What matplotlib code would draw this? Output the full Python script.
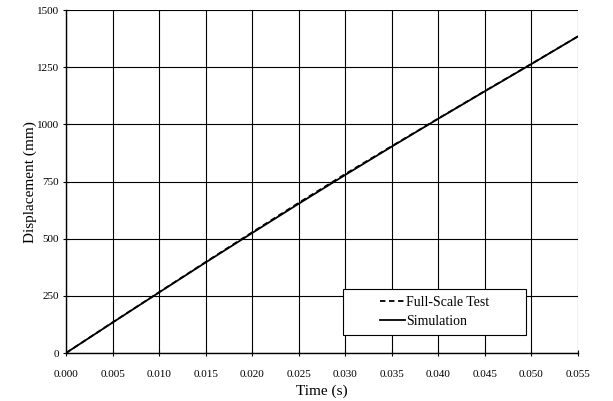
import numpy as np
import matplotlib
matplotlib.use("Agg")
import matplotlib.pyplot as plt
from matplotlib.patches import Rectangle

# time (s) and displacement (mm)
time = [0.000, 0.005, 0.010, 0.015, 0.020, 0.025, 0.030, 0.035, 0.040, 0.045, 0.050, 0.055]
test = [0, 134, 266, 398, 528, 657, 783, 905, 1026, 1146, 1265, 1385]
sim = [0, 133, 265, 396, 525, 653, 779, 903, 1025, 1145, 1264, 1385]

plt.rcParams['font.family'] = ['Liberation Serif', 'DejaVu Serif']

fig = plt.figure(figsize=(6.13, 4.01), dpi=100)
ax = fig.add_axes([0.1077, 0.1197, 0.835, 0.855])

ax.plot(time, test, color='black', lw=1.3, ls=(0, (3, 2)), label='Full-Scale Test')
ax.plot(time, sim, color='black', lw=1.3, label='Simulation')

ax.set_xlim(0, 0.055)
ax.set_ylim(0, 1500)
ax.set_xticks(np.arange(0, 0.0551, 0.005))
ax.set_xticklabels(['%.3f' % t for t in np.arange(0, 0.0551, 0.005)])
ax.set_yticks(np.arange(0, 1501, 250))
ax.grid(True, color='black', lw=0.8)
ax.tick_params(direction='inout', length=5, width=0.8, labelsize=8)
ax.tick_params(axis='x', pad=10)
ax.tick_params(axis='y', pad=2.5)
for s in ['top', 'right']:
    ax.spines[s].set_visible(False)
for s in ['left', 'bottom']:
    ax.spines[s].set_linewidth(1.0)

ax.set_xlabel('Time (s)', fontsize=11, labelpad=4)
ax.set_ylabel('Displacement (mm)', fontsize=11, labelpad=0)

# legend box, wider than its contents as in the original
box = Rectangle((0.541, 0.0525), 0.357, 0.135, transform=ax.transAxes,
                facecolor='white', edgecolor='black', lw=0.8, zorder=4)
ax.add_patch(box)
leg = ax.legend(loc='center', bbox_to_anchor=(0.7195, 0.12), fontsize=10, frameon=False,
                handlelength=1.8, handletextpad=0.1, borderpad=0.2, labelspacing=0.45)
leg.set_zorder(5)

fig.savefig('out.png', dpi=100)
